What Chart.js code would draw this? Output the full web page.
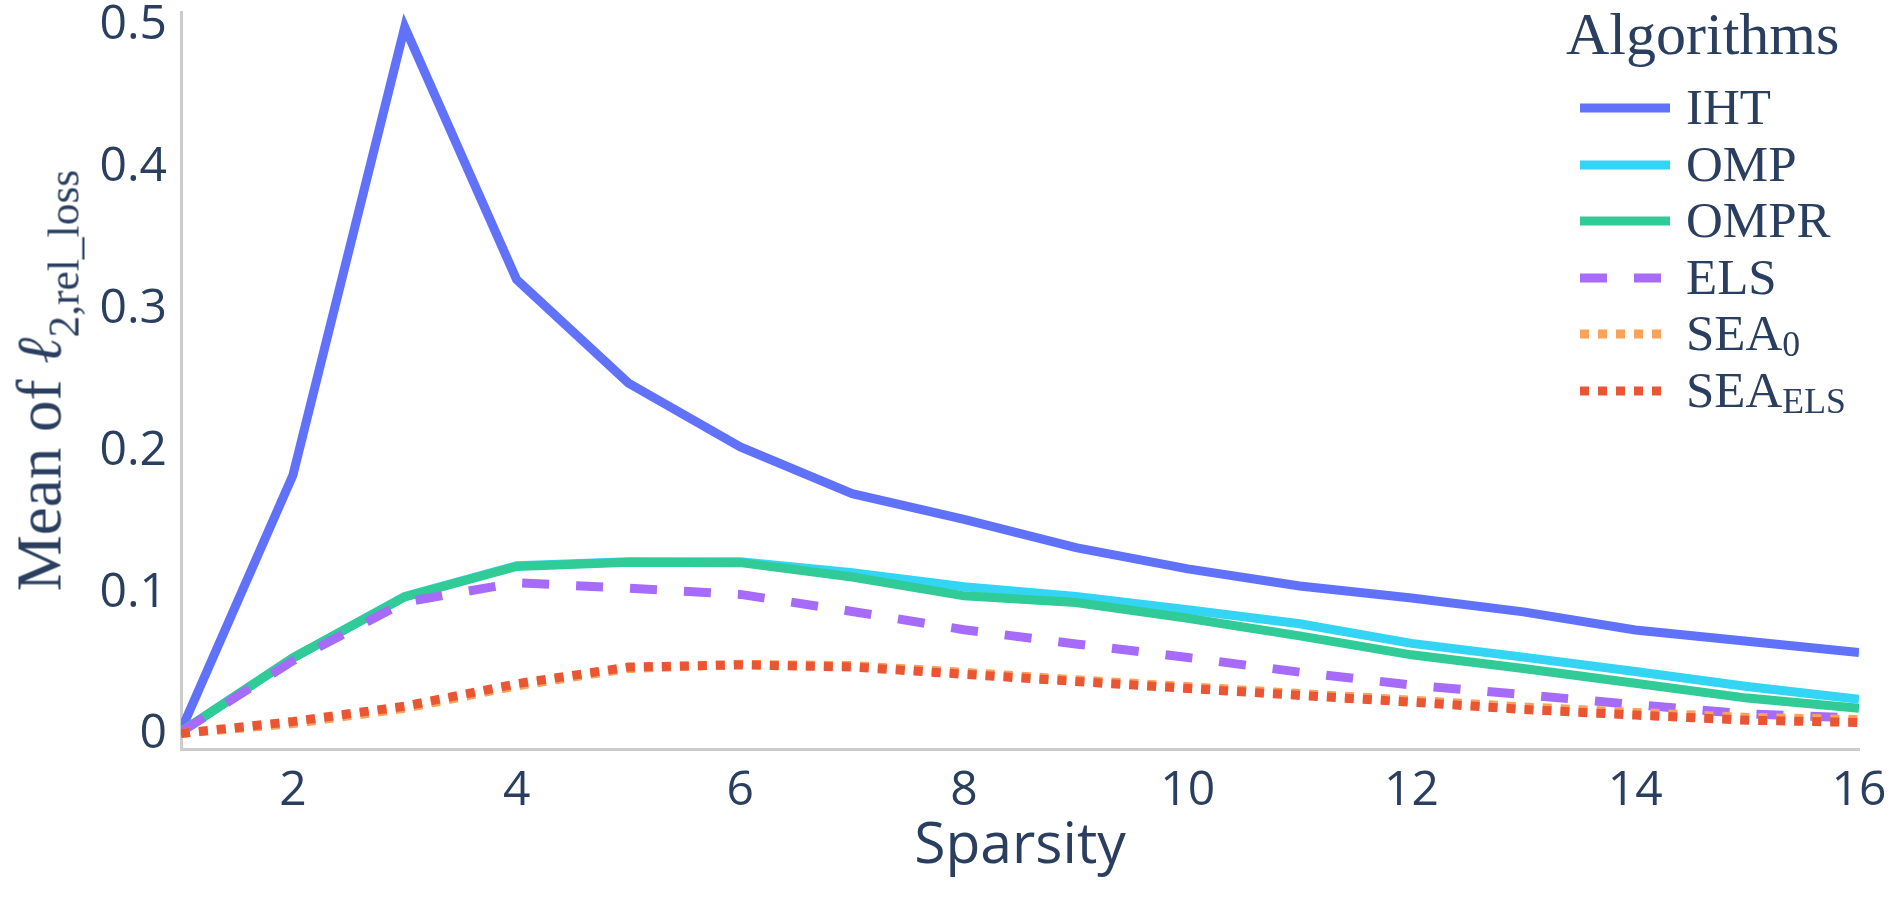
<!DOCTYPE html>
<html>
<head>
<meta charset="utf-8">
<script src="https://cdn.jsdelivr.net/npm/chart.js@4.4.1/dist/chart.umd.min.js"></script>
<style>
html,body{margin:0;padding:0;background:#fff;}
#wrap{position:relative;width:1891px;height:898px;overflow:hidden;background:#fff;}
#c{position:absolute;left:0;top:0;}
#ytitle{position:absolute;width:700px;height:63px;left:-311.5px;top:348.5px;transform:rotate(-90deg);
  text-align:center;font-family:"Liberation Serif","DejaVu Serif",serif;font-size:63px;line-height:63px;color:#2a3f5f;white-space:nowrap;}
#ytitle .ell{font-family:"DejaVu Serif","Liberation Serif",serif;font-style:italic;font-size:1.0em;}
#ytitle .sub{font-size:0.69em;position:relative;top:0.42em;}
.lg{position:absolute;font-family:"Liberation Serif","DejaVu Serif",serif;color:#2a3f5f;white-space:nowrap;}
.lgt{font-size:60px;line-height:60px;}
.lgi{font-size:51px;line-height:51px;}
.lgi .sub{font-size:0.7em;position:relative;top:0.16em;}
.sw{position:absolute;}
</style>
</head>
<body>
<div id="wrap">
  <canvas id="c" width="1891" height="898"></canvas>
  <div id="ytitle">Mean of <span class="ell">ℓ</span><span class="sub">2,rel_loss</span></div>
  <div id="legend"></div>
</div>
<script>
// ---- data ----
const sparsity = [1, 2, 3, 4, 5, 6, 7, 8, 9, 10, 11, 12, 13, 14, 15, 16];
const iht    = [0.003, 0.183, 0.499, 0.321, 0.248, 0.203, 0.170, 0.152, 0.132, 0.117, 0.105, 0.0965, 0.0867, 0.0739, 0.066, 0.0581];
const omp    = [0.002, 0.0542, 0.0975, 0.1192, 0.1221, 0.1221, 0.1143, 0.1044, 0.0975, 0.0882, 0.0783, 0.0645, 0.0548, 0.0446, 0.0341, 0.0251];
const ompr   = [0.002, 0.0542, 0.0973, 0.1187, 0.1216, 0.1214, 0.1113, 0.098, 0.0933, 0.0822, 0.0698, 0.0564, 0.0468, 0.0364, 0.0259, 0.0188];
const els    = [0.002, 0.0522, 0.0936, 0.1072, 0.1034, 0.099, 0.087, 0.0741, 0.0641, 0.0545, 0.0442, 0.0351, 0.0284, 0.0212, 0.0148, 0.0118];
const sea0   = [0.001, 0.0079, 0.0187, 0.0345, 0.0468, 0.0497, 0.0488, 0.0441, 0.0388, 0.034, 0.0291, 0.0244, 0.0197, 0.0158, 0.0123, 0.0108];
const seaEls = [0.001, 0.0094, 0.0202, 0.036, 0.0478, 0.0493, 0.0478, 0.0427, 0.0376, 0.0327, 0.0278, 0.023, 0.0179, 0.0139, 0.0103, 0.0087];

const seriesNames = ['IHT', 'OMP', 'OMPR', 'ELS', 'SEA0', 'SEA_ELS'];
const legendMain  = ['IHT', 'OMP', 'OMPR', 'ELS', 'SEA', 'SEA'];
const legendSub   = ['', '', '', '', '0', 'ELS'];
const seriesData  = [iht, omp, ompr, els, sea0, seaEls];
const xTickVals = [2, 4, 6, 8, 10, 12, 14, 16];
const yTickVals = [0, 0.1, 0.2, 0.3, 0.4, 0.5];

// ---- styles ----
const colors = ['#6172fa', '#33d4f4', '#30cb96', '#a66bf9', '#fba25a', '#ea5634'];
const dashes = [[], [], [], [27, 27], [9, 9], [9, 9]];
const LW = 9;
const TXT = '#2a3f5f';

const datasets = seriesData.map((arr, i) => ({
  label: seriesNames[i],
  data: arr.map((v, j) => ({x: sparsity[j], y: v})),
  borderColor: colors[i],
  backgroundColor: colors[i],
  borderWidth: LW,
  borderDash: dashes[i],
  pointRadius: 0,
  fill: false,
  tension: 0,
  order: seriesData.length - i
}));

new Chart(document.getElementById('c').getContext('2d'), {
  type: 'line',
  data: {datasets},
  options: {
    responsive: false,
    animation: false,
    devicePixelRatio: 1,
    layout: {padding: {top: 12, right: 32, left: 0, bottom: 0}},
    plugins: {legend: {display: false}, tooltip: {enabled: false}},
    elements: {line: {borderJoinStyle: 'miter', borderCapStyle: 'butt'}},
    scales: {
      x: {
        type: 'linear', min: 1, max: 16,
        afterBuildTicks: s => { s.ticks = xTickVals.map(v => ({value: v})); },
        afterFit: s => { s.height = 149; s.paddingLeft = 0; s.paddingRight = 0; },
        grid: {display: false, drawTicks: false},
        border: {display: true, color: '#cccccc', width: 3},
        ticks: {padding: 14, color: TXT, font: {family: '"Open Sans"', size: 48}, maxRotation: 0, autoSkip: false},
        title: {display: true, text: 'Sparsity', color: TXT, font: {family: '"Open Sans"', size: 57}, padding: {top: 0, bottom: 17}}
      },
      y: {
        type: 'linear', min: -0.01, max: 0.5097,
        afterBuildTicks: s => { s.ticks = yTickVals.map(v => ({value: v})); },
        afterFit: s => { s.width = 181; s.paddingTop = 0; s.paddingBottom = 0; },
        grid: {display: false, drawTicks: false},
        border: {display: true, color: '#cccccc', width: 3},
        ticks: {padding: 14, color: TXT, font: {family: '"Open Sans"', size: 48},
          callback: v => (v === 0 ? '0' : v.toFixed(1))}
      }
    }
  }
});

// ---- HTML legend (allows subscripts) ----
const lg = document.getElementById('legend');
const ttl = document.createElement('div');
ttl.className = 'lg lgt';
ttl.style.left = '1566px';
ttl.style.top = '4px';
ttl.textContent = 'Algorithms';
lg.appendChild(ttl);
seriesNames.forEach((name, i) => {
  const baseline = 125 + i * 56.5;
  const cy = baseline - 17;
  const svgNS = 'http://www.w3.org/2000/svg';
  const svg = document.createElementNS(svgNS, 'svg');
  svg.setAttribute('width', '90');
  svg.setAttribute('height', '12');
  svg.setAttribute('class', 'sw');
  svg.style.left = '1580px';
  svg.style.top = (cy - 6) + 'px';
  const ln = document.createElementNS(svgNS, 'line');
  ln.setAttribute('x1', '0'); ln.setAttribute('x2', '90');
  ln.setAttribute('y1', '6'); ln.setAttribute('y2', '6');
  ln.setAttribute('stroke', colors[i]);
  ln.setAttribute('stroke-width', String(LW));
  if (dashes[i].length) ln.setAttribute('stroke-dasharray', dashes[i].join(' '));
  svg.appendChild(ln);
  lg.appendChild(svg);
  const t = document.createElement('div');
  t.className = 'lg lgi';
  t.style.left = '1686px';
  t.style.top = (baseline - 42.7) + 'px';
  t.innerHTML = legendMain[i] + (legendSub[i] ? '<span class="sub">' + legendSub[i] + '</span>' : '');
  lg.appendChild(t);
});
</script>
</body>
</html>
